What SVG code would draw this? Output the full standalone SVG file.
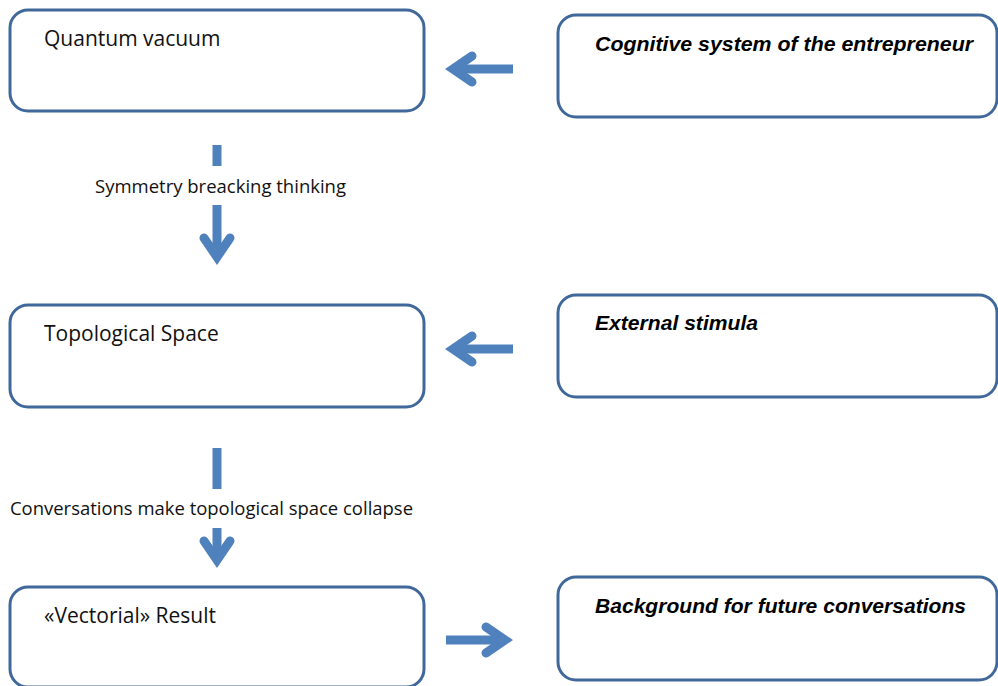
<svg xmlns="http://www.w3.org/2000/svg" xmlns:xlink="http://www.w3.org/1999/xlink" width="998" height="686" viewBox="0 0 998 686">
  <style>
    .box { fill: #ffffff; stroke: #41689a; stroke-width: 3; }
    .lbl { font-family: "Open Sans", "Liberation Sans", sans-serif; font-size: 21px; fill: #111111; }
    .ext { font-family: "Liberation Sans", Arial, sans-serif; font-size: 19.5px; font-weight: bold; font-style: italic; fill: #000000; }
    .cap { font-family: "Open Sans", "Liberation Sans", sans-serif; font-size: 18.4px; fill: #111111; }
    .shaft { stroke: #4f81bd; stroke-width: 9; fill: none; stroke-linecap: butt; }
    .head { stroke: #4f81bd; stroke-width: 9; fill: none; stroke-linecap: round; stroke-linejoin: miter; stroke-miterlimit: 4; }
  </style>
  <defs>
    <!-- open chevron head pointing right, vertex at origin -->
    <polyline id="arrowhead" class="head" points="-19,-13 0,0 -19,13"/>
  </defs>
  <rect width="998" height="686" fill="#ffffff"/>

  <g id="connectors">
    <!-- cognitive system -> quantum vacuum -->
    <line class="shaft" x1="513" y1="69" x2="454" y2="69"/>
    <use xlink:href="#arrowhead" transform="translate(453,69) rotate(180)"/>
    <!-- quantum vacuum -> topological space -->
    <line class="shaft" x1="217" y1="145" x2="217" y2="166"/>
    <line class="shaft" x1="217" y1="205" x2="217" y2="257"/>
    <use xlink:href="#arrowhead" transform="translate(217,257) rotate(90)"/>
    <!-- external stimula -> topological space -->
    <line class="shaft" x1="513" y1="349" x2="454" y2="349"/>
    <use xlink:href="#arrowhead" transform="translate(453,349) rotate(180)"/>
    <!-- topological space -> vectorial result -->
    <line class="shaft" x1="217" y1="448" x2="217" y2="489"/>
    <line class="shaft" x1="217" y1="528" x2="217" y2="560"/>
    <use xlink:href="#arrowhead" transform="translate(217,560) rotate(90)"/>
    <!-- vectorial result -> background -->
    <line class="shaft" x1="446" y1="640" x2="505" y2="640"/>
    <use xlink:href="#arrowhead" transform="translate(505,640)"/>
    <text class="cap" x="95" y="193" textLength="251" lengthAdjust="spacingAndGlyphs">Symmetry breacking thinking</text>
    <text class="cap" x="10" y="515" textLength="403" lengthAdjust="spacingAndGlyphs">Conversations make topological space collapse</text>
  </g>

  <g id="quantum-vacuum">
    <rect class="box" x="10" y="10" width="414" height="101" rx="18" ry="18"/>
    <text class="lbl" x="44" y="46">Quantum vacuum</text>
  </g>
  <g id="cognitive-system">
    <rect class="box" x="558" y="15" width="439" height="102" rx="18" ry="18"/>
    <text class="ext" x="595" y="51" textLength="378" lengthAdjust="spacingAndGlyphs">Cognitive system of the entrepreneur</text>
  </g>
  <g id="topological-space">
    <rect class="box" x="10" y="305" width="414" height="102" rx="18" ry="18"/>
    <text class="lbl" x="44" y="341">Topological Space</text>
  </g>
  <g id="external-stimula">
    <rect class="box" x="558" y="295" width="439" height="102" rx="18" ry="18"/>
    <text class="ext" x="595" y="330" textLength="163" lengthAdjust="spacingAndGlyphs">External stimula</text>
  </g>
  <g id="vectorial-result">
    <rect class="box" x="10" y="587" width="414" height="100" rx="18" ry="18"/>
    <text class="lbl" x="44" y="623">«Vectorial» Result</text>
  </g>
  <g id="background-conversations">
    <rect class="box" x="558" y="577" width="439" height="103" rx="18" ry="18"/>
    <text class="ext" x="595" y="613" textLength="371" lengthAdjust="spacingAndGlyphs">Background  for future conversations</text>
  </g>
</svg>
